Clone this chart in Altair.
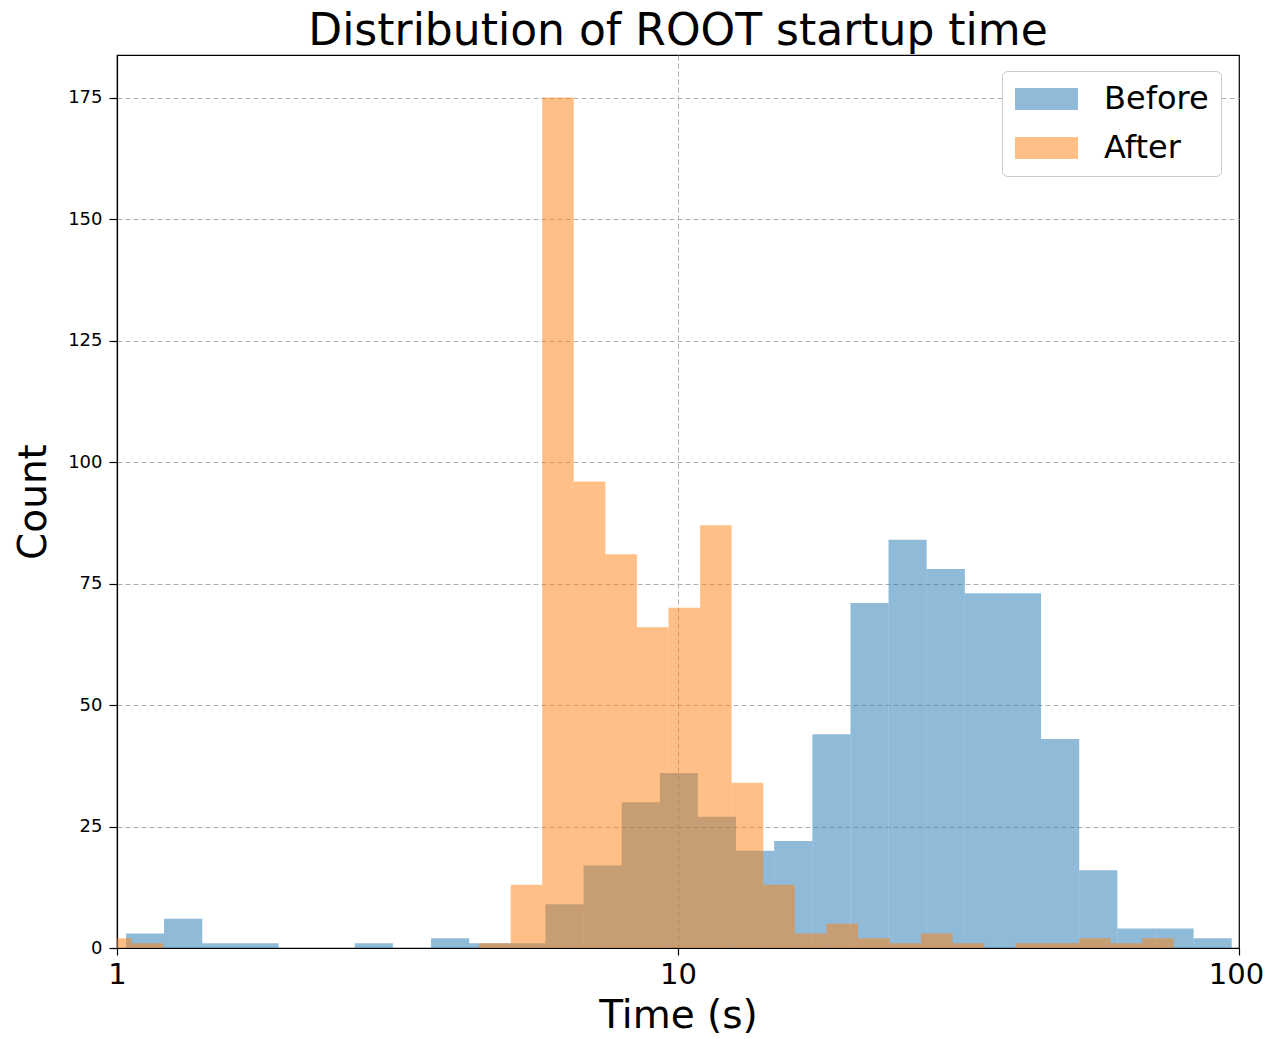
import altair as alt
import pandas as pd

# Bin edges (seconds)
before_edges = [1.038, 1.213, 1.419, 1.659, 1.941, 2.269, 2.654, 3.103, 3.629, 4.244,
                4.962, 5.803, 6.786, 7.936, 9.280, 10.85, 12.69, 14.84, 17.36, 20.30,
                23.73, 27.75, 32.46, 37.95, 44.38, 51.90, 60.69, 70.97, 82.99, 97.05]
before_counts = [3, 6, 1, 1, 0, 0, 1, 0, 2, 1,
                 1, 9, 17, 30, 36, 27, 20, 22, 44, 71,
                 84, 78, 73, 73, 43, 16, 4, 4, 2]

after_edges = [0.933, 1.062, 1.209, 1.376, 1.567, 1.784, 2.031, 2.311, 2.631, 2.995,
               3.410, 3.882, 4.419, 5.031, 5.727, 6.519, 7.421, 8.448, 9.616, 10.95,
               12.46, 14.19, 16.15, 18.39, 20.93, 23.83, 27.12, 30.87, 35.15, 40.01,
               45.55, 51.85, 59.02, 67.20, 76.48]
after_counts = [2, 1, 0, 0, 0, 0, 0, 0, 0, 0,
                0, 0, 1, 13, 175, 96, 81, 66, 70, 87,
                34, 13, 3, 5, 2, 1, 3, 1, 0, 1,
                1, 2, 1, 2]

series_names = ["Before", "After"]
series_colors = ["#1f77b4", "#ff7f0e"]
x_ticks = [1, 10, 100]
y_ticks = [0, 25, 50, 75, 100, 125, 150, 175]

rows = []
for name, edges, counts in [("Before", before_edges, before_counts),
                            ("After", after_edges, after_counts)]:
    for i, c in enumerate(counts):
        if c > 0:
            rows.append({"series": name, "left": edges[i], "right": edges[i + 1], "count": c})
df = pd.DataFrame(rows)

FONT = "DejaVu Sans"
# wide, flat legend swatch
legend_path = "M-1.364,-1L4.364,-1L4.364,1L-1.364,1Z"

chart = alt.Chart(df).mark_bar(opacity=0.5, clip=True, strokeWidth=0).encode(
    x=alt.X("left:Q",
            scale=alt.Scale(type="log", domain=[1, 100], nice=False),
            axis=alt.Axis(values=x_ticks, format="d", title="Time (s)",
                          labelFontSize=29, titleFontSize=39, labelPadding=5,
                          titlePadding=7, tickSize=7, labelFlush=False,
                          labelOverlap=False, grid=True,
                          labelOffset={"condition": {"test": "datum.value === 100", "value": -3}, "value": 0},
                          gridOpacity={"condition": {"test": "datum.value === 10", "value": 1}, "value": 0})),
    x2="right:Q",
    y=alt.Y("count:Q",
            scale=alt.Scale(domain=[0, 183.75], nice=False, zero=True),
            axis=alt.Axis(values=y_ticks, title="Count",
                          labelFontSize=18, titleFontSize=39, labelPadding=7,
                          titlePadding=14, tickSize=8, labelFlush=False,
                          labelOverlap=False, grid=True,
                          gridOpacity={"condition": {"test": "datum.value === 0", "value": 0}, "value": 1})),
    y2=alt.datum(0),
    color=alt.Color("series:N",
                    scale=alt.Scale(domain=series_names, range=series_colors),
                    legend=alt.Legend(title=None, orient="none", legendX=885, legendY=16,
                                      symbolType=legend_path, symbolSize=484,
                                      symbolOpacity=0.5, symbolStrokeWidth=0,
                                      labelFontSize=32, labelOffset=58, labelFont=FONT,
                                      labelColor="black",
                                      rowPadding=17, padding=12,
                                      strokeColor="#cccccc", fillColor="white",
                                      cornerRadius=5, zindex=2)),
).properties(
    width=1122,
    height=893,
    title=alt.TitleParams("Distribution of ROOT startup time", fontSize=44, font=FONT,
                          fontWeight="normal", anchor="middle", color="black", offset=1),
    padding={"left": 109, "top": 47, "right": 26, "bottom": 90},
    autosize=alt.AutoSizeParams(type="none"),
).configure_axis(
    labelFont=FONT, titleFont=FONT, labelColor="black", titleColor="black",
    titleFontWeight="normal", domainColor="black", domainWidth=1.2,
    tickColor="black", tickWidth=1.2, gridColor="#b0b0b0", gridDash=[5, 3],
    gridWidth=1, zindex=1,
).configure_view(
    stroke="black", strokeWidth=1.2,
)

chart.save("out.html", embed_options={"renderer": "svg", "actions": False})
